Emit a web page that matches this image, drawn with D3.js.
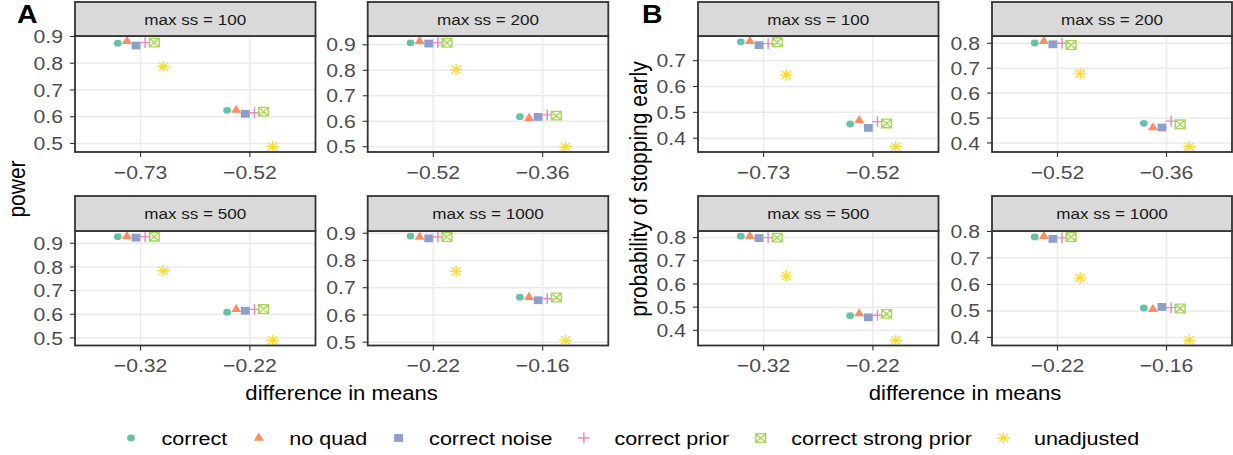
<!DOCTYPE html>
<html><head><meta charset="utf-8">
<script src="https://cdn.jsdelivr.net/npm/d3@7"></script>
<style>body{margin:0;background:#fff;} svg{display:block;font-family:"Liberation Sans",Arial,sans-serif;}</style>
</head><body><svg id="chart" width="1233" height="455"></svg>
<script>
// ---------------- data ----------------
const methods = ["correct","no quad","correct noise","correct prior","correct strong prior","unadjusted"];
const colors = ["#66C2A5","#FC8D62","#8DA0CB","#E78AC3","#A6D854","#FFD92F"];
const facets = ["max ss = 100","max ss = 200","max ss = 500","max ss = 1000"];
const diffTicks100 = ["\u22120.73","\u22120.52"];
const diffTicks200 = ["\u22120.52","\u22120.36"];
const diffTicks500 = ["\u22120.32","\u22120.22"];
const diffTicks1000 = ["\u22120.22","\u22120.16"];

// power: [first difference, second difference], each in method order
const power100 = [[0.875,0.882,0.866,0.877,0.877,0.787],[0.624,0.625,0.611,0.615,0.619,0.488]];
const power200 = [[0.908,0.914,0.905,0.909,0.908,0.803],[0.618,0.612,0.617,0.625,0.622,0.500]];
const power500 = [[0.928,0.930,0.924,0.928,0.928,0.784],[0.609,0.621,0.615,0.621,0.622,0.490]];
const power1000 = [[0.889,0.886,0.881,0.886,0.886,0.760],[0.665,0.665,0.654,0.660,0.664,0.507]];

// probability of stopping early
const stop100 = [[0.773,0.775,0.760,0.766,0.771,0.645],[0.455,0.469,0.440,0.464,0.457,0.367]];
const stop200 = [[0.801,0.808,0.796,0.800,0.793,0.678],[0.479,0.462,0.462,0.488,0.475,0.385]];
const stop500 = [[0.806,0.806,0.798,0.800,0.800,0.635],[0.463,0.472,0.456,0.465,0.471,0.357]];
const stop1000 = [[0.779,0.782,0.772,0.776,0.779,0.624],[0.511,0.506,0.515,0.512,0.509,0.389]];

const diffTicks = [diffTicks100, diffTicks200, diffTicks500, diffTicks1000];
const powerData = [power100, power200, power500, power1000];
const stopData = [stop100, stop200, stop500, stop1000];

// ---------------- layout ----------------
const SX = 1.14; // horizontal stretch of the reference rendering
const svg = d3.select("#chart");
const rows = [{stripTop:2, top:36, bottom:152},{stripTop:196, top:231, bottom:345.5}];
const colsA = [[75,315.5],[367.7,608.3]];
const colsB = [[698,938.5],[992,1232]];

function stext(g, x, y, str, o) {
  o = o || {};
  const t = g.append("text")
    .attr("transform", `translate(${x},${y}) scale(${SX},1)` + (o.rotate ? ` rotate(${o.rotate})` : ""))
    .attr("font-size", o.size || 15)
    .attr("fill", o.fill || "#000")
    .attr("text-anchor", o.anchor || "start")
    .text(str);
  if (o.weight) t.attr("font-weight", o.weight);
  return t;
}

function drawSymbol(g, k, x, y) {
  const s = g.append("g").attr("transform", `translate(${x},${y}) scale(${SX},1)`);
  const c = colors[k];
  if (k === 0) {
    s.append("circle").attr("r", 3.4).attr("fill", c);
  } else if (k === 1) {
    s.append("path").attr("d", "M0,-5.4L4.4,2.7L-4.4,2.7Z").attr("fill", c);
  } else if (k === 2) {
    s.append("rect").attr("x",-3.9).attr("y",-3.9).attr("width",7.8).attr("height",7.8).attr("fill", c);
  } else if (k === 3) {
    s.append("path").attr("d","M-5,0H5M0,-5.4V5.4").attr("stroke",c).attr("stroke-width",1.3).attr("fill","none");
  } else if (k === 4) {
    s.append("path").attr("d","M-4.3,-4.3H4.3V4.3H-4.3ZM-4.3,-4.3L4.3,4.3M4.3,-4.3L-4.3,4.3")
      .attr("stroke",c).attr("stroke-width",1.3).attr("fill","none");
  } else {
    s.append("path").attr("d","M-5.6,0H5.6M0,-5.8V5.8M-4.1,-4.1L4.1,4.1M4.1,-4.1L-4.1,4.1")
      .attr("stroke",c).attr("stroke-width",1.3).attr("fill","none");
  }
}

let clipId = 0;
function drawPanel(col, row, fi, data) {
  const [left, right] = col;
  const r = rows[row];
  const g = svg.append("g");
  const x = d3.scalePoint().domain(diffTicks[fi]).range([left, right]).padding(0.6);
  const all = data.flat();
  const mn = d3.min(all), mx = d3.max(all), rg = mx - mn;
  const y = d3.scaleLinear().domain([mn - 0.05*rg, mx + 0.05*rg]).range([r.bottom, r.top]);
  const yt = d3.range(Math.ceil(y.domain()[0]*10 - 1e-9), Math.floor(y.domain()[1]*10 + 1e-9) + 1).map(v => v/10);

  g.append("rect").attr("x",left).attr("y",r.top).attr("width",right-left).attr("height",r.bottom-r.top).attr("fill","#fff");
  g.selectAll(".gy").data(yt).enter().append("line")
    .attr("x1",left).attr("x2",right).attr("y1",d=>y(d)).attr("y2",d=>y(d))
    .attr("stroke","#EBEBEB").attr("stroke-width",1.5);
  g.selectAll(".gx").data(x.domain()).enter().append("line")
    .attr("y1",r.top).attr("y2",r.bottom).attr("x1",d=>x(d)).attr("x2",d=>x(d))
    .attr("stroke","#EBEBEB").attr("stroke-width",1.5);

  const id = "clip" + (clipId++);
  svg.append("clipPath").attr("id", id).append("rect")
    .attr("x",left).attr("y",r.top).attr("width",right-left).attr("height",r.bottom-r.top);
  const pg = g.append("g").attr("clip-path", `url(#${id})`);
  const dodge = 0.5 * x.step() / methods.length;
  data.forEach((vals, di) => {
    vals.forEach((v, k) => {
      drawSymbol(pg, k, x(diffTicks[fi][di]) + (k - (methods.length-1)/2) * dodge, y(v));
    });
  });

  g.append("rect").attr("x",left).attr("y",r.top).attr("width",right-left).attr("height",r.bottom-r.top)
    .attr("fill","none").attr("stroke","#333").attr("stroke-width",1.8);
  g.append("rect").attr("x",left).attr("y",r.stripTop).attr("width",right-left).attr("height",r.top-r.stripTop)
    .attr("fill","#D9D9D9").attr("stroke","#333").attr("stroke-width",1.8);
  stext(g, (left+right)/2, (r.stripTop + r.top)/2 + 5.5, facets[fi], {size:15, fill:"#1A1A1A", anchor:"middle"});

  yt.forEach(v => {
    g.append("line").attr("x1",left-5).attr("x2",left).attr("y1",y(v)).attr("y2",y(v)).attr("stroke","#333").attr("stroke-width",1.1);
    stext(g, left-12, y(v)+6.6, d3.format(".1f")(v), {size:18.6, fill:"#4D4D4D", anchor:"end"});
  });
  x.domain().forEach(d => {
    g.append("line").attr("x1",x(d)).attr("x2",x(d)).attr("y1",r.bottom).attr("y2",r.bottom+5).attr("stroke","#333").attr("stroke-width",1.1);
    stext(g, x(d), r.bottom + 26.5, d, {size:18.6, fill:"#4D4D4D", anchor:"middle"});
  });
}

drawPanel(colsA[0], 0, 0, powerData[0]);
drawPanel(colsA[1], 0, 1, powerData[1]);
drawPanel(colsA[0], 1, 2, powerData[2]);
drawPanel(colsA[1], 1, 3, powerData[3]);
drawPanel(colsB[0], 0, 0, stopData[0]);
drawPanel(colsB[1], 0, 1, stopData[1]);
drawPanel(colsB[0], 1, 2, stopData[2]);
drawPanel(colsB[1], 1, 3, stopData[3]);

const labels = svg.append("g");
stext(labels, 17, 23, "A", {size:25, weight:"bold"});
stext(labels, 642, 23, "B", {size:25, weight:"bold"});
stext(labels, (colsA[0][0]+colsA[1][1])/2, 400, "difference in means", {size:19.4, anchor:"middle"});
stext(labels, (colsB[0][0]+colsB[1][1])/2, 400, "difference in means", {size:19.4, anchor:"middle"});
const midY = 189;
stext(labels, 25, midY, "power", {size:21, anchor:"middle", rotate:-90});
stext(labels, 647, midY, "probability of stopping early", {size:21, anchor:"middle", rotate:-90});

const lg = svg.append("g");
let cx = 131;
methods.forEach((m, k) => {
  drawSymbol(lg, k, cx, 438);
  const t = stext(lg, cx + 30.5, 444.5, m, {size:18.9});
  const w = t.node().getComputedTextLength() * SX;
  cx = cx + 30.5 + w + 31.5;
});
</script></body></html>
